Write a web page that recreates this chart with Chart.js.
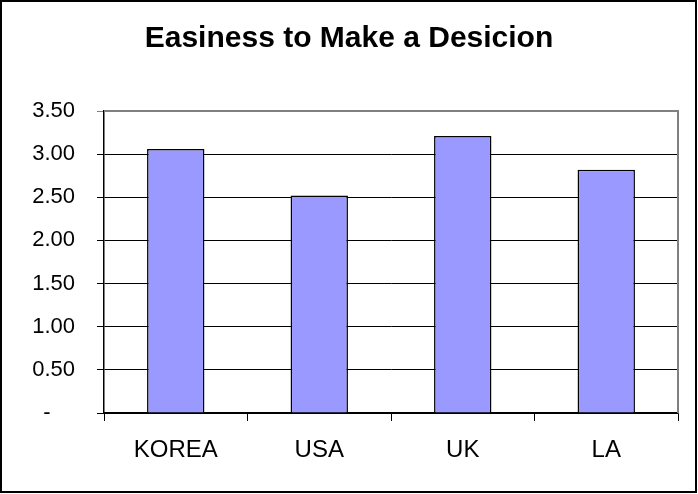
<!DOCTYPE html>
<html>
<head>
<meta charset="utf-8">
<script src="https://cdn.jsdelivr.net/npm/chart.js@4/dist/chart.umd.min.js"></script>
<style>
  html, body { margin: 0; padding: 0; background: #fff; }
  #wrap { width: 698px; height: 494px; position: relative; }
</style>
</head>
<body>
<div id="wrap"><canvas id="c" width="698" height="494"></canvas></div>
<script>
const titleText = "Easiness to Make a Desicion";
const categories = ["KOREA", "USA", "UK", "LA"];
const values = [3.06, 2.52, 3.21, 2.82];
const yTickValues = [0, 0.5, 1.0, 1.5, 2.0, 2.5, 3.0, 3.5];

const frame = {
  id: 'frame',
  afterDraw(chart) {
    const ctx = chart.ctx, a = chart.chartArea;
    ctx.save();
    ctx.strokeStyle = '#808080';
    ctx.lineWidth = 2;
    ctx.beginPath();
    ctx.moveTo(a.left, a.top);
    ctx.lineTo(a.right, a.top);
    ctx.lineTo(a.right, a.bottom);
    ctx.stroke();
    ctx.strokeStyle = '#000';
    ctx.lineWidth = 2;
    ctx.strokeRect(1, 1, 695, 491);
    ctx.restore();
  }
};

new Chart(document.getElementById('c'), {
  type: 'bar',
  data: {
    labels: categories,
    datasets: [{
      data: values,
      backgroundColor: '#9999FF',
      borderColor: '#000',
      borderWidth: 1.5,
      barPercentage: 0.4,
      categoryPercentage: 1.0
    }]
  },
  plugins: [frame],
  options: {
    responsive: false,
    animation: false,
    devicePixelRatio: 1,
    layout: { padding: 0 },
    plugins: {
      legend: { display: false },
      tooltip: { enabled: false },
      title: {
        display: true,
        text: titleText,
        color: '#000',
        font: { family: 'Liberation Sans, Arial, sans-serif', size: 30, weight: 'bold' },
        padding: { top: 21, bottom: 54 }
      }
    },
    scales: {
      x: {
        afterFit(s) { s.height = 81; },
        grid: {
          display: true,
          drawOnChartArea: false,
          offset: true,
          tickLength: 8,
          color: '#000',
          lineWidth: 1
        },
        border: { display: true, color: '#000', width: 1.5 },
        ticks: {
          color: '#000',
          padding: 15,
          font: { family: 'Liberation Sans, Arial, sans-serif', size: 24 }
        }
      },
      y: {
        min: 0,
        max: 3.5,
        afterFit(s) { s.width = 104; },
        afterBuildTicks(s) { s.ticks = yTickValues.map(v => ({ value: v })); },
        grid: {
          color: (c) => (c.tick && c.tick.value === 3.5) ? '#808080' : '#000',
          lineWidth: 1,
          tickLength: 7
        },
        border: { display: true, color: '#000', width: 1.5 },
        ticks: {
          color: '#000',
          padding: 22,
          font: { family: 'Liberation Sans, Arial, sans-serif', size: 22 },
          callback: (v) => v === 0 ? '-    ' : Number(v).toFixed(2)
        }
      },
      yRight: {
        position: 'right',
        display: true,
        min: 0,
        max: 3.5,
        afterFit(s) { s.width = 20; },
        grid: { display: false },
        border: { display: false },
        ticks: { display: false }
      }
    }
  }
});
</script>
</body>
</html>
